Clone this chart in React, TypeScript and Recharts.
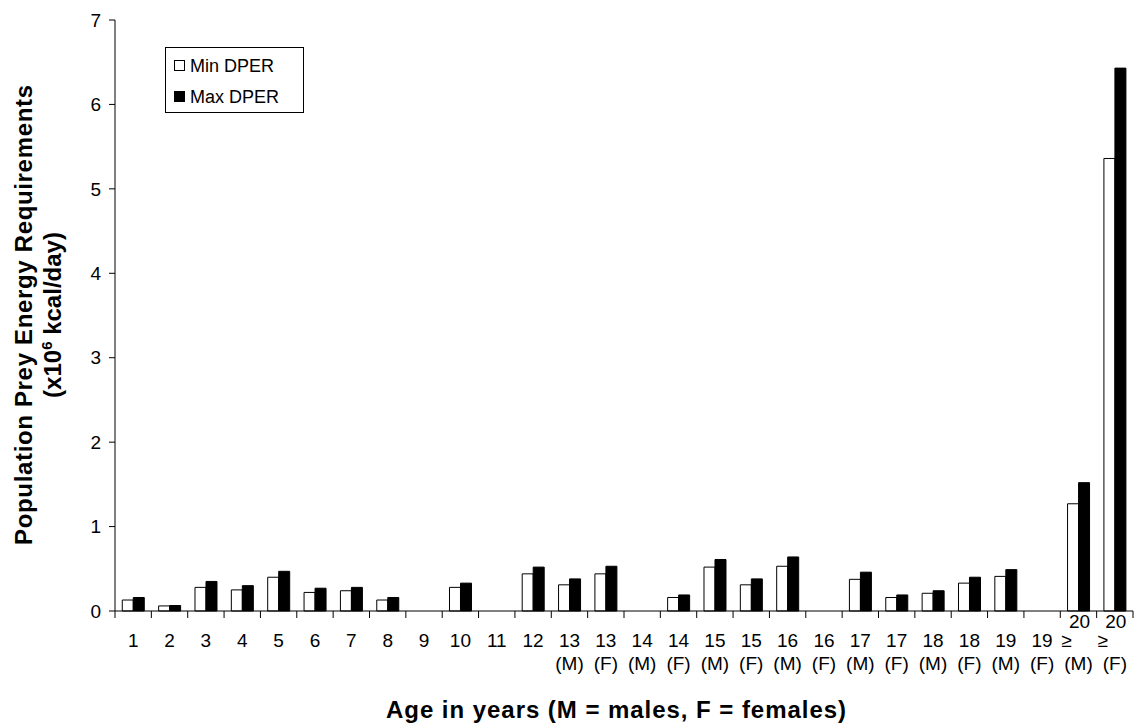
import { BarChart, Bar, XAxis, YAxis, Legend } from 'recharts';

const ages = ['1', '2', '3', '4', '5', '6', '7', '8', '9', '10', '11', '12',
  '13', '13', '14', '14', '15', '15', '16', '16', '17', '17', '18', '18', '19', '19', '20', '20'];
const sexes = ['', '', '', '', '', '', '', '', '', '', '', '',
  'M', 'F', 'M', 'F', 'M', 'F', 'M', 'F', 'M', 'F', 'M', 'F', 'M', 'F', 'M', 'F'];
const atLeast = [false, false, false, false, false, false, false, false, false, false, false, false,
  false, false, false, false, false, false, false, false, false, false, false, false, false, false, true, true];
const minDper = [0.13, 0.06, 0.28, 0.25, 0.4, 0.22, 0.24, 0.13, 0, 0.28, 0, 0.44,
  0.31, 0.44, 0, 0.16, 0.52, 0.31, 0.53, 0, 0.375, 0.16, 0.21, 0.33, 0.41, 0, 1.27, 5.36];
const maxDper = [0.16, 0.065, 0.35, 0.3, 0.47, 0.27, 0.28, 0.16, 0, 0.33, 0, 0.52,
  0.38, 0.53, 0, 0.19, 0.61, 0.38, 0.64, 0, 0.46, 0.19, 0.24, 0.4, 0.49, 0, 1.52, 6.43];
const yTicks = [0, 1, 2, 3, 4, 5, 6, 7];

const data = ages.map((a, i) => ({
  key: `${a}${sexes[i]}${i}`,
  min: minDper[i],
  max: maxDper[i],
}));

const W = 1135;
const H = 723;
const LEFT = 115;
const RIGHT = 2;
const TOP = 20;
const XAXIS_H = 112;
const BAND = (W - LEFT - RIGHT) / ages.length;
const FONT = '"Liberation Sans", Arial, Helvetica, sans-serif';

function XTick(props: any) {
  const { x, y, index } = props;
  const age = ages[index];
  const sex = sexes[index];
  const ge = atLeast[index];
  const left = x - BAND / 2;
  const right = x + BAND / 2;
  return (
    <g>
      <line x1={left} x2={left} y1={y} y2={y + 7} stroke="#000" strokeWidth={1} />
      {index === ages.length - 1 && (
        <line x1={right} x2={right} y1={y} y2={y + 7} stroke="#000" strokeWidth={1} />
      )}
      {ge ? (
        <>
          <text x={x + 1} y={y + 17} textAnchor="middle" fontSize={19} fontFamily={FONT} fill="#000">{age}</text>
          <text x={x - 12} y={y + 36} textAnchor="middle" fontSize={19} fontFamily={FONT} fill="#000">≥</text>
        </>
      ) : (
        <text x={x} y={y + 36} textAnchor="middle" fontSize={19} fontFamily={FONT} fill="#000">{age}</text>
      )}
      {sex && (
        <text x={x} y={y + 59} textAnchor="middle" fontSize={19} fontFamily={FONT} fill="#000">({sex})</text>
      )}
    </g>
  );
}

function YTitle() {
  return (
    <g fontFamily={FONT} fontWeight="bold" fontSize={24} fill="#000">
      <text transform="translate(32, 315) rotate(-90)" textAnchor="middle" textLength={460}>
        Population Prey Energy Requirements
      </text>
      <text transform="translate(61, 315) rotate(-90)" textAnchor="middle">
        (x10<tspan fontSize={15} dy={-9}>6</tspan>
        <tspan dy={9}> kcal/day)</tspan>
      </text>
    </g>
  );
}

function XTitle() {
  return (
    <text x={616} y={718} textAnchor="middle" fontFamily={FONT} fontWeight="bold" fontSize={24} fill="#000" textLength={460}>
      Age in years (M = males, F = females)
    </text>
  );
}

function LegendBox() {
  return (
    <svg width={140} height={67} style={{ display: 'block' }}>
      <rect x={0.5} y={0.5} width={138} height={65} fill="#fff" stroke="#000" strokeWidth={1} />
      <rect x={9.5} y={13.5} width={10} height={10} fill="#fff" stroke="#000" strokeWidth={1} />
      <text x={25} y={25} fontFamily={FONT} fontSize={18} fill="#000">Min DPER</text>
      <rect x={9} y={44} width={11} height={11} fill="#000" />
      <text x={25} y={56} fontFamily={FONT} fontSize={18} fill="#000">Max DPER</text>
    </svg>
  );
}

export default function App() {
  return (
    <div style={{ position: 'absolute', left: 0, top: 0, width: W, height: H, background: '#fff' }}>
      <BarChart
        width={W}
        height={H}
        data={data}
        margin={{ top: TOP, right: RIGHT, left: 0, bottom: 0 }}
        barCategoryGap="20%"
        barGap={0}
      >
        <XAxis
          dataKey="key"
          height={XAXIS_H}
          interval={0}
          tickLine={false}
          tickSize={0}
          tickMargin={0}
          axisLine={{ stroke: '#000', strokeWidth: 1 }}
          tick={<XTick />}
          label={<XTitle />}
        />
        <YAxis
          width={LEFT}
          domain={[0, 7]}
          ticks={yTicks}
          interval={0}
          tickSize={6}
          tickMargin={8}
          axisLine={{ stroke: '#000', strokeWidth: 1 }}
          tickLine={{ stroke: '#000', strokeWidth: 1 }}
          tick={{ fill: '#000', fontSize: 19, fontFamily: FONT }}
          label={<YTitle />}
        />
        <Legend
          verticalAlign="middle"
          align="center"
          layout="vertical"
          wrapperStyle={{ position: 'absolute', left: 165, top: 47, width: 140, height: 67 }}
          content={() => <LegendBox />}
        />
        <Bar dataKey="min" name="Min DPER" fill="#fff" stroke="#000" strokeWidth={1} isAnimationActive={false} />
        <Bar dataKey="max" name="Max DPER" fill="#000" stroke="#000" strokeWidth={1} isAnimationActive={false} />
      </BarChart>
    </div>
  );
}
